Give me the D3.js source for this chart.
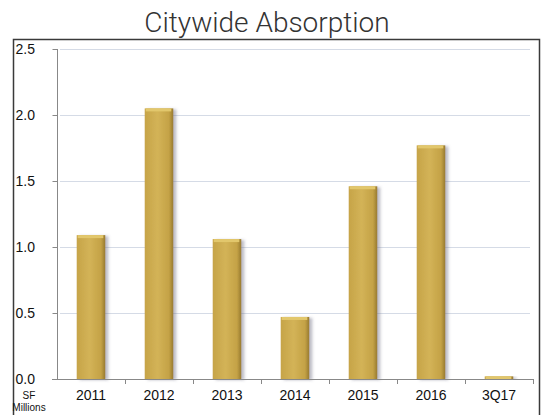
<!DOCTYPE html>
<html>
<head>
<meta charset="utf-8">
<style>
    html, body { margin: 0; padding: 0; background: #fff; }
    svg { display: block; }
</style>
</head>
<body>
<div id="chart"></div>
<script src="https://cdn.jsdelivr.net/npm/d3@7"></script>
<script>
    const categories = ["2011", "2012", "2013", "2014", "2015", "2016", "3Q17"];
    const absorption = [1.09, 2.05, 1.06, 0.47, 1.46, 1.77, 0.02];
    const yTicks = [0, 0.5, 1.0, 1.5, 2.0, 2.5];

    const W = 542, H = 415;
    const svg = d3.select("#chart").append("svg").attr("width", W).attr("height", H);

    const defs = svg.append("defs");
    const grad = defs.append("linearGradient").attr("id", "gold").attr("x1", 0).attr("x2", 1).attr("y1", 0).attr("y2", 0);
    grad.append("stop").attr("offset", "0%").attr("stop-color", "#c6a448");
    grad.append("stop").attr("offset", "45%").attr("stop-color", "#d3b357");
    grad.append("stop").attr("offset", "85%").attr("stop-color", "#c4a246");
    grad.append("stop").attr("offset", "100%").attr("stop-color", "#977a30");
    const shadow = defs.append("filter").attr("id", "shadow").attr("x", "-20%").attr("y", "-5%").attr("width", "160%").attr("height", "115%");
    shadow.append("feDropShadow").attr("dx", 3).attr("dy", 1).attr("stdDeviation", 1.5)
        .attr("flood-color", "#6a6a80").attr("flood-opacity", 0.45);

    // frame
    svg.append("path")
        .attr("d", "M13.5,415 L13.5,39.5 L539.5,39.5 L539.5,415")
        .attr("fill", "none").attr("stroke", "#3a3a3a").attr("stroke-width", 1.5);

    // title
    svg.append("text").attr("x", 267).attr("y", 32).attr("text-anchor", "middle")
        .attr("font-family", "Roboto, 'Liberation Sans', sans-serif").attr("font-weight", 300)
        .attr("font-size", 28).attr("fill", "#333").text("Citywide Absorption");

    const x = d3.scaleBand().domain(categories).range([57, 533]).paddingInner(0.58).paddingOuter(0.29);
    const y = d3.scaleLinear().domain([0, 2.5]).range([379, 49]);

    // gridlines
    svg.append("g").selectAll("line").data(yTicks.filter(d => d > 0)).join("line")
        .attr("x1", 60).attr("x2", 530)
        .attr("y1", d => Math.round(y(d)) + 0.5).attr("y2", d => Math.round(y(d)) + 0.5)
        .attr("stroke", "#d5dbe6").attr("stroke-width", 1);

    // y axis
    const yAxis = svg.append("g").attr("transform", "translate(57.5,0)")
        .call(d3.axisLeft(y).tickValues(yTicks).tickFormat(d3.format(".1f")).tickSize(5).tickPadding(0));
    yAxis.select(".domain").attr("stroke", "#888").attr("d", "M0,49V379");
    yAxis.selectAll(".tick line").attr("stroke", "#888");
    yAxis.selectAll(".tick text").attr("x", -42).attr("text-anchor", "start")
        .attr("font-family", "Helvetica, Arial, 'Liberation Sans', sans-serif").attr("font-size", 14).attr("fill", "#111");

    // bars
    svg.append("g").selectAll("rect").data(absorption).join("rect")
        .attr("x", (d, i) => x(categories[i]))
        .attr("y", d => y(d))
        .attr("width", x.bandwidth())
        .attr("height", d => y(0) - y(d))
        .attr("fill", "url(#gold)")
        .attr("filter", "url(#shadow)");
    // top cap highlight
    svg.append("g").selectAll("rect").data(absorption).join("rect")
        .attr("x", (d, i) => x(categories[i]) + 1)
        .attr("y", d => y(d))
        .attr("width", x.bandwidth() - 3)
        .attr("height", d => Math.min(3, y(0) - y(d)))
        .attr("fill", "#e2c76c");

    // x axis
    const xAxis = svg.append("g").attr("transform", "translate(0,379.5)")
        .call(d3.axisBottom(x).tickSize(0).tickPadding(11));
    xAxis.select(".domain").attr("stroke", "#888").attr("d", "M52,0H533");
    xAxis.selectAll(".tick text")
        .attr("font-family", "Helvetica, Arial, 'Liberation Sans', sans-serif").attr("font-size", 14).attr("fill", "#111");
    svg.append("g").selectAll("line").data(categories.slice(1)).join("line")
        .attr("x1", d => Math.round(x(d) - x.step() * x.paddingInner() / 2) + 0.5)
        .attr("x2", d => Math.round(x(d) - x.step() * x.paddingInner() / 2) + 0.5)
        .attr("y1", 379).attr("y2", 384)
        .attr("stroke", "#888");
    svg.append("line").attr("x1", 533.5).attr("x2", 533.5).attr("y1", 379).attr("y2", 384).attr("stroke", "#888");

    // unit label
    const unit = svg.append("text").attr("text-anchor", "middle")
        .attr("font-family", "Helvetica, Arial, 'Liberation Sans', sans-serif").attr("font-size", 10).attr("fill", "#111");
    unit.append("tspan").attr("x", 29).attr("y", 399).text("SF");
    unit.append("tspan").attr("x", 29).attr("y", 411).text("Millions");
</script>
</body>
</html>
